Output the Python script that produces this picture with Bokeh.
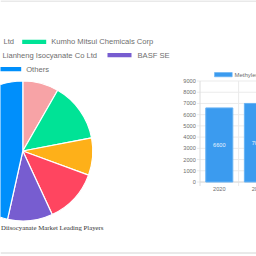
import numpy as np
from bokeh.plotting import figure
from bokeh.models import Range1d
from bokeh.core.properties import value
from bokeh.embed import file_html
from bokeh.resources import INLINE

# ---------------- data ----------------
pie_shares = [8.3, 13.7, 8.6, 12.5, 10.4, 46.5]
pie_colors = ["#f7a3a6", "#00e396", "#feb019", "#ff4560", "#775dd0", "#008ffb"]
legend_labels = ["Ltd", "Kumho Mitsui Chemicals Corp", "Lianheng Isocyanate Co  Ltd", "BASF SE", "Others"]
legend_color_idx = [0, 1, 3, 4, 5]
pie_title = "Diisocyanate Market Leading Players"

years = [2020, 2021]
year_labels = ["2020", "2021"]
market_size = [6600, 7000]
y_ticks = [0, 1000, 2000, 3000, 4000, 5000, 6000, 7000, 8000, 9000]
y_tick_labels = [str(t) for t in y_ticks]
bar_series = "Methylene Diphenyl Diisocyanate"

FONT = value("Liberation Sans")
TXT = "#6e6e6e"
GRID = "#ebebeb"
AXIS = "#dcdcdc"

# one canvas; main ranges are page pixels (y downwards)
p = figure(width=256, height=256, x_range=Range1d(0, 256), y_range=Range1d(256, 0),
           x_axis_type=None, y_axis_type=None, output_backend="svg", toolbar_location=None,
           min_border=0, min_border_left=0, min_border_right=0, min_border_top=0, min_border_bottom=0)
p.outline_line_color = None
p.grid.visible = False

# page frame lines
p.segment(x0=[0, 0], y0=[0.5, 252.5], x1=[256, 256], y1=[0.5, 252.5], line_color="#d4d4d4", line_width=1)

# ---------------- pie ----------------
frac = np.array(pie_shares) / sum(pie_shares)
cum = np.concatenate([[0.0], np.cumsum(frac)])
start = np.pi / 2 - 2 * np.pi * cum[:-1]
end = np.pi / 2 - 2 * np.pi * cum[1:]
p.wedge(x=22.3, y=150.5, radius=70, start_angle=start, end_angle=end, direction="clock",
        fill_color=pie_colors, line_color="white", line_width=1.2)

box_x = [None, 33.7, None, 119.0, 8.4]
box_w = [0, 24, 0, 24, 24.6]
text_x = [3, 50.7, 2, 137, 25.7]
rows_y = [41.3, 41.3, 54.7, 54.7, 68.7]
bx, by, bw, bc = [], [], [], []
for i, cx in enumerate(box_x):
    if cx is not None:
        bx.append(cx); by.append(rows_y[i]); bw.append(box_w[i]); bc.append(pie_colors[legend_color_idx[i]])
p.rect(x=bx, y=by, width=bw, height=4.3, fill_color=bc, line_color=None)
p.text(x=text_x, y=rows_y, text=legend_labels, text_font=FONT, text_font_size="7.6px",
       text_color=TXT, text_baseline="middle", text_align="left")
p.text(x=[0.5], y=[227], text=[pie_title], text_font=value("Liberation Serif"),
       text_font_size="6.8px", text_color="#333333", text_baseline="middle", text_align="left")

# ---------------- bar chart (own scales) ----------------
X0, Y0 = 199.5, 181.5        # page px of category start / value 0
PX = 38.6                    # px per category
VPP = 9000 / 101             # value per px
p.extra_x_ranges = {"bx": Range1d(2019.5 - X0 / PX, 2019.5 + (256 - X0) / PX)}
p.extra_y_ranges = {"by": Range1d(-(256 - Y0) * VPP, Y0 * VPP)}
R = dict(x_range_name="bx", y_range_name="by")

def px2x(px):
    return 2019.5 + (px - X0) / PX

def py2y(py):
    return (Y0 - py) * VPP

x_first = years[0] - 0.5
x_last = years[-1] + 0.5
seps = [y + 0.5 for y in years]

# horizontal grid + y ticks
p.segment(x0=[px2x(196.5)] * len(y_ticks), y0=y_ticks, x1=[x_last + 1] * len(y_ticks), y1=y_ticks,
          line_color=GRID, line_width=1, **R)
# category separators (with tick below axis)
p.segment(x0=seps, y0=[py2y(185.5)] * len(seps), x1=seps, y1=[max(y_ticks)] * len(seps),
          line_color=GRID, line_width=1, **R)
# axes lines
p.segment(x0=[x_first, x_first], y0=[py2y(185.5), 0], x1=[x_first, x_last + 1], y1=[max(y_ticks), 0],
          line_color=AXIS, line_width=1, **R)

p.vbar(x=years, top=market_size, width=0.7, fill_color="#3b9bef", line_color="#66b2f4", line_width=1, **R)
p.text(x=years, y=[v / 2 for v in market_size], text=[str(v) for v in market_size],
       text_font=FONT, text_font_size="5.6px", text_color="#eaf4fe",
       text_align="center", text_baseline="middle", **R)

# tick labels
p.text(x=[px2x(195.3)] * len(y_ticks), y=y_ticks, text=y_tick_labels, text_font=FONT,
       text_font_size="5.6px", text_color=TXT, text_align="right", text_baseline="middle", **R)
p.text(x=years, y=[py2y(188.7)] * len(years), text=year_labels, text_font=FONT,
       text_font_size="5.6px", text_color=TXT, text_align="center", text_baseline="middle", **R)

# series legend
p.rect(x=[px2x(222.85)], y=[py2y(74.15)], width=17.7 / PX, height=4.3 * VPP,
       fill_color="#3b9bef", line_color="#66b2f4", line_width=0.6, **R)
p.text(x=[px2x(234)], y=[py2y(74.2)], text=[bar_series], text_font=FONT, text_font_size="6px",
       text_color=TXT, text_baseline="middle", text_align="left", **R)

open("out.html", "w").write(file_html(p, INLINE))
